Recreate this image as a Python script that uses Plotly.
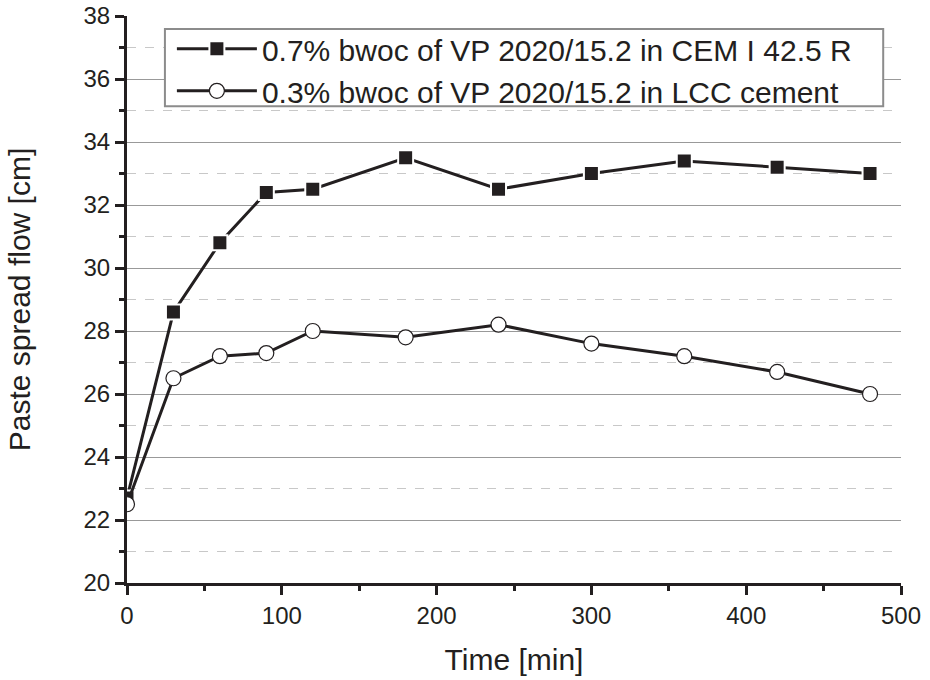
import plotly.graph_objects as go

# Data
time_min = [0, 30, 60, 90, 120, 180, 240, 300, 360, 420, 480]
flow_cem = [22.7, 28.6, 30.8, 32.4, 32.5, 33.5, 32.5, 33.0, 33.4, 33.2, 33.0]
flow_lcc = [22.5, 26.5, 27.2, 27.3, 28.0, 27.8, 28.2, 27.6, 27.2, 26.7, 26.0]

name_cem = "0.7% bwoc of VP 2020/15.2 in CEM I 42.5 R"
name_lcc = "0.3% bwoc of VP 2020/15.2 in LCC cement"

ink = "#231f20"
font_family = "Liberation Sans, Arial, sans-serif"

fig = go.Figure()

fig.add_trace(go.Scatter(
    x=time_min, y=flow_cem, name=name_cem,
    mode="lines+markers",
    line=dict(color=ink, width=3),
    marker=dict(symbol="square", size=15, color=ink,
                line=dict(color="white", width=2)),
))

fig.add_trace(go.Scatter(
    x=time_min, y=flow_lcc, name=name_lcc,
    mode="lines+markers",
    line=dict(color=ink, width=3),
    marker=dict(symbol="circle", size=15, color="white",
                line=dict(color=ink, width=1.2)),
))

# legend frame drawn as a shape so it can be tighter than plotly's own box
fig.add_shape(
    type="rect", xref="paper", yref="paper",
    x0=0.049, x1=0.977, y0=0.841, y1=0.977,
    line=dict(color="#8c8c8c", width=2), fillcolor="white",
    layer="above",
)

fig.update_layout(
    width=930, height=680,
    margin=dict(l=127, r=29, t=16, b=97),
    paper_bgcolor="white",
    plot_bgcolor="white",
    font=dict(family=font_family, color=ink, size=24),
    showlegend=True,
    legend=dict(
        x=0.058, y=0.988, xanchor="left", yanchor="top",
        bgcolor="rgba(0,0,0,0)", borderwidth=0,
        font=dict(size=30, color=ink),
        tracegroupgap=0, itemwidth=80,
    ),
)

fig.update_xaxes(
    range=[0, 500], dtick=100, automargin=False, ticklabeloverflow="allow",
    showline=True, linecolor=ink, linewidth=3,
    ticks="outside", ticklen=9, tickwidth=3, tickcolor=ink,
    minor=dict(dtick=50, ticks="outside", ticklen=5, tickwidth=3, tickcolor=ink),
    showgrid=False, zeroline=False,
    title=dict(text="Time [min]", font=dict(size=30), standoff=22),
    tickfont=dict(size=24),
)

fig.update_yaxes(
    range=[20, 38], dtick=2, automargin=False, ticklabeloverflow="allow",
    showline=True, linecolor=ink, linewidth=3,
    ticks="outside", ticklen=9, tickwidth=3, tickcolor=ink,
    minor=dict(dtick=1, ticks="outside", ticklen=5, tickwidth=3, tickcolor=ink,
               showgrid=True, gridcolor="#c8c8c8", griddash="dash", gridwidth=1),
    showgrid=True, gridcolor="#999999", gridwidth=1,
    zeroline=False,
    title=dict(text="Paste spread flow [cm]", font=dict(size=30), standoff=44),
    tickfont=dict(size=24),
)

# drop the default page margin so the figure sits at the window's corner
fig.write_html("out.html", config={"displayModeBar": False},
               post_script="document.body.style.margin='0';")
